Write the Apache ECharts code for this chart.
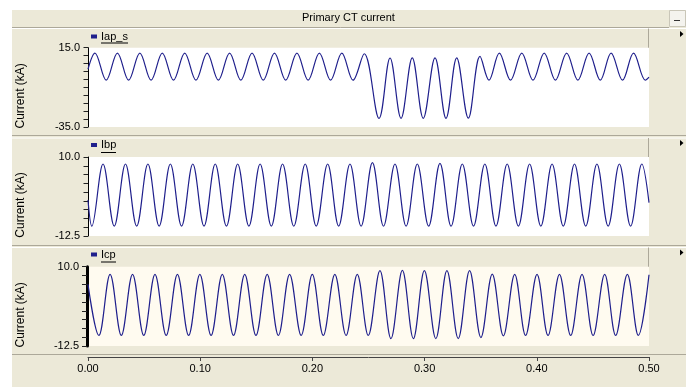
<!DOCTYPE html>
<html><head><meta charset="utf-8">
<script src="https://cdn.jsdelivr.net/npm/echarts@6/dist/echarts.min.js"></script>
<style>html,body{margin:0;padding:0;background:#fff}#c{width:686px;height:387px}</style>
</head><body><div id="c"></div>
<script>
// ---- data: [time (s), current (kA)] at start, extremes, end ----
const chartTitle = 'Primary CT current';
const seriesNames = ['Iap_s', 'Ibp', 'Icp'];
const yAxisName = 'Current (kA)';
const xTickValues = [0, 0.1, 0.2, 0.3, 0.4, 0.5];
const yLimits1 = [-35, 15];
const yLimits2 = [-12.5, 10];
const yLimits3 = [-12.5, 10];

const iapS = [
  [0,1.4],[0.0062,11.6],[0.0162,-5.5],[0.0262,11.6],[0.0362,-5.5],[0.0462,11.6],[0.0562,-5.5],
  [0.0662,11.6],[0.0762,-5.5],[0.0862,11.6],[0.0962,-5.5],[0.1062,11.6],[0.1162,-5.5],
  [0.1262,11.6],[0.1362,-5.5],[0.1462,11.6],[0.1562,-5.5],[0.1662,11.6],[0.1762,-5.5],
  [0.1862,11.6],[0.1962,-5.5],[0.2062,11.6],[0.2162,-5.5],[0.2262,11.6],[0.2362,-5.5],
  [0.2462,11.2],[0.2594,-29.6],[0.2692,8.5],[0.2790,-29.5],[0.2890,8.6],[0.2988,-29.5],
  [0.3093,8.6],[0.3191,-29.5],[0.3286,8.6],[0.3390,-29.4],[0.3494,9.5],[0.3574,-5.5],
  [0.3666,11.6],[0.3766,-5.5],[0.3866,11.6],[0.3966,-5.5],[0.4066,11.6],[0.4166,-5.5],
  [0.4266,11.6],[0.4366,-5.5],[0.4466,11.6],[0.4566,-5.5],[0.4662,11.6],[0.4764,-5.5],
  [0.4862,11.6],[0.4968,-5.5],[0.5,-3.6]
];
const ibp = [
  [0,-2.2],[0.0034,-9.7],[0.0134,8.0],[0.0234,-9.7],[0.0334,8.0],[0.0434,-9.7],[0.0534,8.0],
  [0.0634,-9.7],[0.0734,8.0],[0.0834,-9.7],[0.0934,8.0],[0.1034,-9.7],[0.1134,8.0],
  [0.1234,-9.7],[0.1334,8.0],[0.1434,-9.7],[0.1534,8.0],[0.1634,-9.7],[0.1734,8.0],
  [0.1834,-9.7],[0.1936,8.0],[0.2034,-9.7],[0.2136,8.0],[0.2234,-9.7],[0.2335,8.0],
  [0.2434,-9.7],[0.2535,8.4],[0.2634,-9.7],[0.2736,8.0],[0.2835,-9.7],[0.2935,8.0],
  [0.3036,-9.7],[0.3137,8.2],[0.3236,-9.7],[0.3336,8.0],[0.3436,-9.7],[0.3537,8.0],
  [0.3636,-9.7],[0.3736,8.0],[0.3836,-9.7],[0.3936,8.0],[0.4036,-9.7],[0.4136,8.0],
  [0.4236,-9.7],[0.4336,8.0],[0.4436,-9.7],[0.4536,8.0],[0.4636,-9.7],[0.4736,8.0],
  [0.4836,-9.7],[0.4936,8.0],[0.5,-3.0]
];
const icp = [
  [0,5.0],[0.0097,-9.5],[0.0197,7.85],[0.0297,-9.5],[0.0397,7.85],[0.0497,-9.5],[0.0597,7.85],
  [0.0697,-9.5],[0.0797,7.85],[0.0897,-9.5],[0.0997,7.85],[0.1097,-9.5],[0.1197,7.85],
  [0.1297,-9.5],[0.1397,7.85],[0.1497,-9.5],[0.1597,7.85],[0.1697,-9.5],[0.1797,7.85],
  [0.1900,-9.5],[0.1999,7.85],[0.2097,-9.5],[0.2200,7.85],[0.2300,-9.5],[0.2400,7.85],
  [0.2498,-9.5],[0.2602,8.9],[0.2700,-10.4],[0.2802,8.95],[0.2900,-10.4],[0.2998,8.9],
  [0.3100,-10.4],[0.3199,8.9],[0.3300,-10.4],[0.3401,8.9],[0.3502,-10.1],[0.3603,7.9],
  [0.3702,-9.6],[0.3803,7.85],[0.3900,-9.5],[0.4002,7.85],[0.4100,-9.5],[0.4202,7.85],
  [0.4302,-9.5],[0.4403,7.85],[0.4502,-9.5],[0.4605,7.85],[0.4703,-9.5],[0.4807,7.85],
  [0.4905,-9.5],[0.5,7.7]
];

// ---- styling ----
const FONT = 'Liberation Sans, Arial, sans-serif';
const LINE = '#1f1f8c';
const BEIGE = '#ECE9D8';
const GRAY = '#ACA899';

const grids = [
  {left: 88, right: 37, top: 47.7, height: 79.3, show: true, backgroundColor: '#ffffff', borderWidth: 0},
  {left: 88, right: 37, top: 157, height: 79, show: true, backgroundColor: '#ffffff', borderWidth: 0},
  {left: 88, right: 37, top: 266.7, height: 79.3, show: true, backgroundColor: '#FFFBF0', borderWidth: 0}
];

function yAxisCfg(idx, lim, interval, axisWidth, offset) {
  return {
    type: 'value', gridIndex: idx, min: lim[0], max: lim[1], interval: interval, offset: offset,
    name: yAxisName, nameLocation: 'middle', nameGap: 61 - offset, nameRotate: 90,
    nameTextStyle: {fontFamily: FONT, fontSize: 12, color: '#000', padding: [0, 17, 0, 0]},
    axisLine: {show: true, onZero: false, lineStyle: {color: '#000', width: axisWidth}},
    axisTick: {show: true, length: 4.5 + (axisWidth > 1 ? 0.5 : 0), lineStyle: {color: '#222', width: 1}},
    axisLabel: {
      fontFamily: FONT, fontSize: 11, color: '#000', margin: 8,
      formatter: v => (Math.abs(v - lim[0]) < 1e-9 || Math.abs(v - lim[1]) < 1e-9) ? v.toFixed(1) : ''
    },
    splitLine: {show: false}
  };
}
function xAxisCfg(idx, visible) {
  return {
    type: 'value', gridIndex: idx, min: xTickValues[0], max: xTickValues[xTickValues.length - 1],
    interval: xTickValues[1] - xTickValues[0], show: visible, position: 'bottom', offset: visible ? 11 : 0,
    axisLine: {show: true, onZero: false, lineStyle: {color: '#444', width: 1}},
    axisTick: {show: true, length: 4, lineStyle: {color: '#444'}},
    axisLabel: {fontFamily: FONT, fontSize: 11, color: '#000', margin: 6, formatter: v => v.toFixed(2)},
    splitLine: {show: false}
  };
}

const legendTops = [31, 139.5, 249];
const underlineY = [43, 152.5, 262];
const underlineW = [27, 15, 15];
const arrowY = [34, 143, 252.5];
const headerTops = [28.5, 138, 247.5];
const panelBottoms = [135.5, 245.5, 354.5];

const graphics = [
  {type: 'rect', shape: {x: 0, y: 0, width: 686, height: 10}, style: {fill: '#fff'}, silent: true},
  {type: 'rect', shape: {x: 0, y: 0, width: 12, height: 387}, style: {fill: '#fff'}, silent: true},
  {type: 'line', shape: {x1: 12, y1: 27.5, x2: 669, y2: 27.5}, style: {stroke: GRAY, lineWidth: 1}},
  {type: 'rect', shape: {x: 669.5, y: 10.5, width: 16, height: 16}, style: {fill: '#F4F3EE', stroke: '#C9C6B8', lineWidth: 1}},
  {type: 'line', shape: {x1: 674, y1: 20.5, x2: 680, y2: 20.5}, style: {stroke: '#333', lineWidth: 1}}
];
for (let i = 0; i < 3; i++) {
  graphics.push({type: 'line', shape: {x1: 12, y1: headerTops[i], x2: 686, y2: headerTops[i]}, style: {stroke: '#fff', lineWidth: 1}});
  graphics.push({type: 'line', shape: {x1: 12, y1: panelBottoms[i], x2: 686, y2: panelBottoms[i]}, style: {stroke: GRAY, lineWidth: 1}});
  graphics.push({type: 'line', shape: {x1: 648.5, y1: headerTops[i], x2: 648.5, y2: grids[i].top}, style: {stroke: GRAY, lineWidth: 1}});
  graphics.push({type: 'line', shape: {x1: 101, y1: underlineY[i], x2: 101 + underlineW[i], y2: underlineY[i]}, style: {stroke: '#000', lineWidth: 1}});
  graphics.push({type: 'polygon', shape: {points: [[680, arrowY[i] - 3], [680, arrowY[i] + 3], [683.5, arrowY[i]]]}, style: {fill: '#000'}});
}

const option = {
  animation: false,
  backgroundColor: BEIGE,
  textStyle: {fontFamily: FONT},
  title: {text: chartTitle, left: 302, top: 12, padding: 0,
    textStyle: {fontFamily: FONT, fontSize: 11, fontWeight: 'normal', color: '#000'}},
  grid: grids,
  legend: seriesNames.map((n, i) => ({
    data: [n], left: 91, top: legendTops[i], padding: 0, itemWidth: 6, itemHeight: 4, icon: 'rect',
    selectedMode: false, textStyle: {fontFamily: FONT, fontSize: 11, color: '#000', padding: [0, 0, 0, -1]}
  })),
  xAxis: [xAxisCfg(0, false), xAxisCfg(1, false), xAxisCfg(2, true)],
  yAxis: [yAxisCfg(0, yLimits1, 5, 1, 0), yAxisCfg(1, yLimits2, 2.5, 1, 0), yAxisCfg(2, yLimits3, 2.5, 3, 1)],
  series: [iapS, ibp, icp].map((d, i) => ({
    name: seriesNames[i], type: 'line', xAxisIndex: i, yAxisIndex: i, data: d,
    showSymbol: false, smooth: 0.363, color: LINE, lineStyle: {color: LINE, width: 1.2}
  })),
  graphic: graphics
};
const chart = echarts.init(document.getElementById('c'), null, {renderer: 'canvas'});
chart.setOption(option);
</script></body></html>
